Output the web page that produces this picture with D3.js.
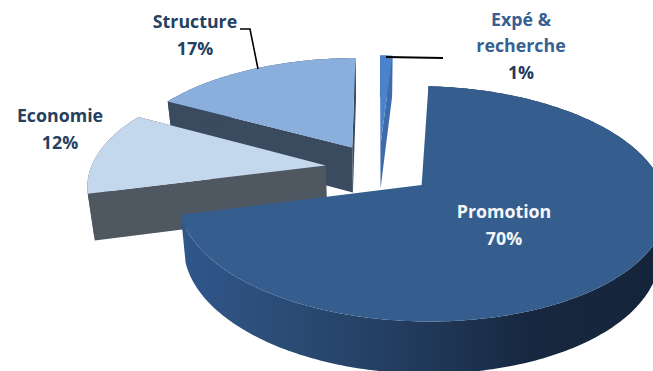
<!DOCTYPE html>
<html>
<head>
<meta charset="utf-8">
<script src="https://cdnjs.cloudflare.com/ajax/libs/d3/7.8.5/d3.min.js"></script>
<style>
html,body{margin:0;padding:0;background:#fff;overflow:hidden}
svg{display:block}
text{font-family:"Open Sans",Lato,sans-serif;font-weight:700;font-size:17.8px;text-anchor:middle;dominant-baseline:central}
</style>
</head>
<body>
<svg id="chart" width="653" height="371"></svg>
<script>
// Budget split, clockwise from twelve o'clock
const categories = ["Promotion", "Economie", "Structure", "Expé & recherche"];
const shares = [70, 12, 17, 1];
const topColors = ["#355e8e", "#c3d7ed", "#8aafdc", "#4a82cc"];
const wallColors = ["#2a4a72", "#4f5761", "#3a4a5f", "#3e6cab"];
const labelColors = ["#f4f6f9", "#254061", "#254061", "#376092"];
const valueColors = ["#f4f6f9", "#254061", "#254061", "#1f3a5f"];

const W = 653, H = 371;
const svg = d3.select("#chart");

// Scene parameters of the extruded, exploded pie
const cx = 379, cy = 168.5, radius = 235, explode = 54;
const tilt = 0.466, focal = 1500, thickness = 47, taper = 0.024;
const rotation = 3.5 * Math.PI / 180;

const pie = d3.pie().sort(null).value(d => d)
  .startAngle(rotation).endAngle(rotation + 2 * Math.PI);
const arcs = pie(shares);

// Plane coordinates (x right, y toward the viewer) plus depth level -> screen
function project([x, y], level) {
  const s = focal / (focal - y) * (1 - taper * level);
  return [cx + x * s, cy + (y * tilt + level * thickness) * s];
}
const polar = (a, r) => [Math.sin(a) * r, -Math.cos(a) * r];
const line = d3.line();

arcs.forEach(d => {
  const mid = (d.startAngle + d.endAngle) / 2;
  const off = polar(mid, explode);
  d.apex = off;
  const n = Math.max(3, Math.ceil((d.endAngle - d.startAngle) * 60));
  d.rim = d3.range(n + 1).map(i => {
    const a = d.startAngle + (d.endAngle - d.startAngle) * i / n;
    const p = polar(a, radius);
    return [off[0] + p[0], off[1] + p[1]];
  });
});

const defs = svg.append("defs");
const grad = defs.append("linearGradient").attr("id", "rimShade")
  .attr("gradientUnits", "userSpaceOnUse")
  .attr("x1", 185).attr("x2", 653).attr("y1", 0).attr("y2", 0);
[[0, "#30568a"], [0.25, "#2a4a72"], [0.5, "#213a5b"], [0.75, "#16273f"], [1, "#14253b"]]
  .forEach(([o, c]) => grad.append("stop").attr("offset", o).attr("stop-color", c));

// Back-to-front drawing order
const order = [2, 3, 1, 0];
const pieG = svg.append("g");
order.forEach(i => {
  const d = arcs[i];
  const g = pieG.append("g");
  const first = d.rim[0], last = d.rim[d.rim.length - 1];
  const face = (a, b) => [project(a, 0), project(b, 0), project(b, 1), project(a, 1)];
  // The large slice only shows its rounded rim, its cut faces look away
  if (i !== 0) {
    g.append("path").attr("d", line(face(d.apex, first)) + "Z").attr("fill", wallColors[i]);
    g.append("path").attr("d", line(face(d.apex, last)) + "Z").attr("fill", wallColors[i]);
  }
  const rimPath = d.rim.map(p => project(p, 0)).concat(d.rim.slice().reverse().map(p => project(p, 1)));
  g.append("path").attr("d", line(rimPath) + "Z")
    .attr("fill", i === 0 ? "url(#rimShade)" : wallColors[i]);
  const top = [project(d.apex, 0)].concat(d.rim.map(p => project(p, 0)));
  g.append("path").attr("d", line(top) + "Z").attr("fill", topColors[i]);
});

// Leader lines
const leaders = svg.append("g").attr("fill", "none").attr("stroke", "#000");
leaders.append("polyline").attr("points", "240,29 250,29 258,69").attr("stroke-width", 1.6);
leaders.append("polyline").attr("points", "386,57 443,58").attr("stroke-width", 1.8);

// Labels: name lines followed by the percentage
const labelSpots = [
  { x: 504, y: 211, lines: ["Promotion"] },
  { x: 60, y: 115, lines: ["Economie"] },
  { x: 195, y: 21, lines: ["Structure"] },
  { x: 521, y: 19, lines: ["Expé &", "recherche"] }
];
labelSpots.forEach((s, i) => {
  s.lines.forEach((t, j) => {
    svg.append("text").attr("x", s.x).attr("y", s.y + j * 26).attr("fill", labelColors[i]).text(t);
  });
  svg.append("text").attr("x", s.x).attr("y", s.y + s.lines.length * 26.5)
    .attr("fill", valueColors[i]).text(shares[i] + "%");
});
</script>
</body>
</html>
